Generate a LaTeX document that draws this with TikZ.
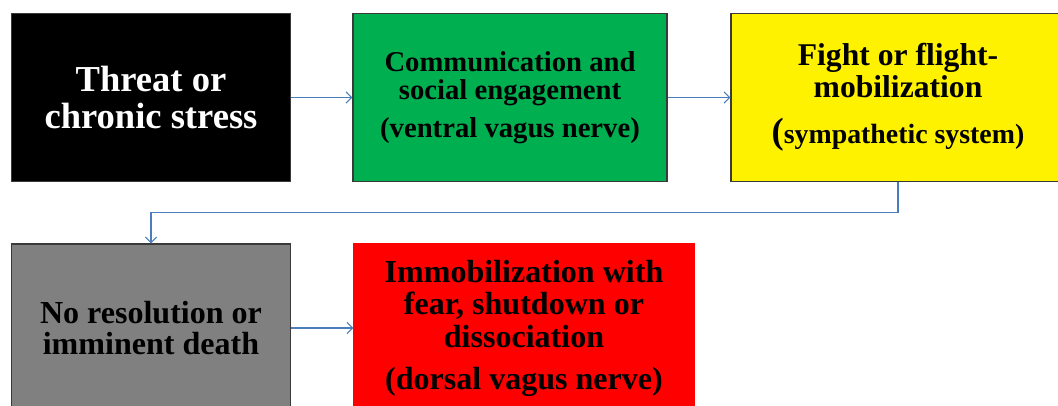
\documentclass[tikz,border=0pt]{standalone}
\usepackage{fontspec}
\setmainfont{Liberation Serif}
\usepackage{xcolor}
\definecolor{linkblue}{HTML}{4A7EBB}
\definecolor{edgegray}{HTML}{3A3A3A}
\definecolor{calmgreen}{HTML}{00B050}
\definecolor{alarmred}{HTML}{FF0000}
\definecolor{deadgray}{HTML}{808080}
\usepackage{tikz}
\usetikzlibrary{arrows.meta, calc}

\begin{document}
\begin{tikzpicture}[
  box/.style={draw=edgegray, line width=0.8pt, align=center, inner sep=0pt, minimum height=4.2cm},
  link/.style={draw=linkblue, line width=0.8pt, -{Straight Barb[length=4pt, width=8pt]}}
]
  \useasboundingbox (0,0) rectangle (26.45,10.125);
  \clip (0,0) rectangle (26.45,10.125);

  % --- Top row ---
  \node[box, fill=black, text=white, minimum width=6.975cm,
        font=\bfseries\fontsize{26}{26.1}\selectfont] (threat) at (3.775, 7.6875)
    {Threat or\\chronic stress};
  \node[box, fill=calmgreen, minimum width=7.85cm,
        font=\bfseries\fontsize{20.4}{20.1}\selectfont] (social) at (12.75, 7.6875)
    {Communication and\\social engagement\\[7pt](ventral vagus nerve)};
  \node[box, fill=yellow, minimum width=8.35cm,
        font=\bfseries\fontsize{22.5}{22.5}\selectfont] (fight) at (22.45, 7.6875)
    {Fight or flight-\\mobilization\\[10.5pt]{\fontsize{19.8}{19.8}\selectfont{\fontsize{26}{26}\selectfont(}sympathetic system)}};

  % --- Bottom row ---
  \node[box, fill=deadgray, minimum width=6.975cm,
        font=\bfseries\fontsize{22.8}{22.5}\selectfont] (noexit) at (3.775, 1.925)
    {No resolution or\\imminent death};
  \node[box, draw=alarmred, fill=alarmred, minimum width=8.5cm,
        font=\bfseries\fontsize{22.8}{23.1}\selectfont] (shutdown) at (13.1, 1.925)
    {Immobilization with\\fear, shutdown or\\dissociation\\[6.8pt](dorsal vagus nerve)};

  % --- Connectors ---
  \draw[link] (threat.east) -- (social.west);
  \draw[link] (social.east) -- (fight.west);
  \coordinate (turn) at ($(fight.south)!0.5!(noexit.north)$);
  \draw[link] (fight.south) |- (turn) -| (noexit.north);
  \draw[link] (noexit.east) -- (shutdown.west);
\end{tikzpicture}
\end{document}
